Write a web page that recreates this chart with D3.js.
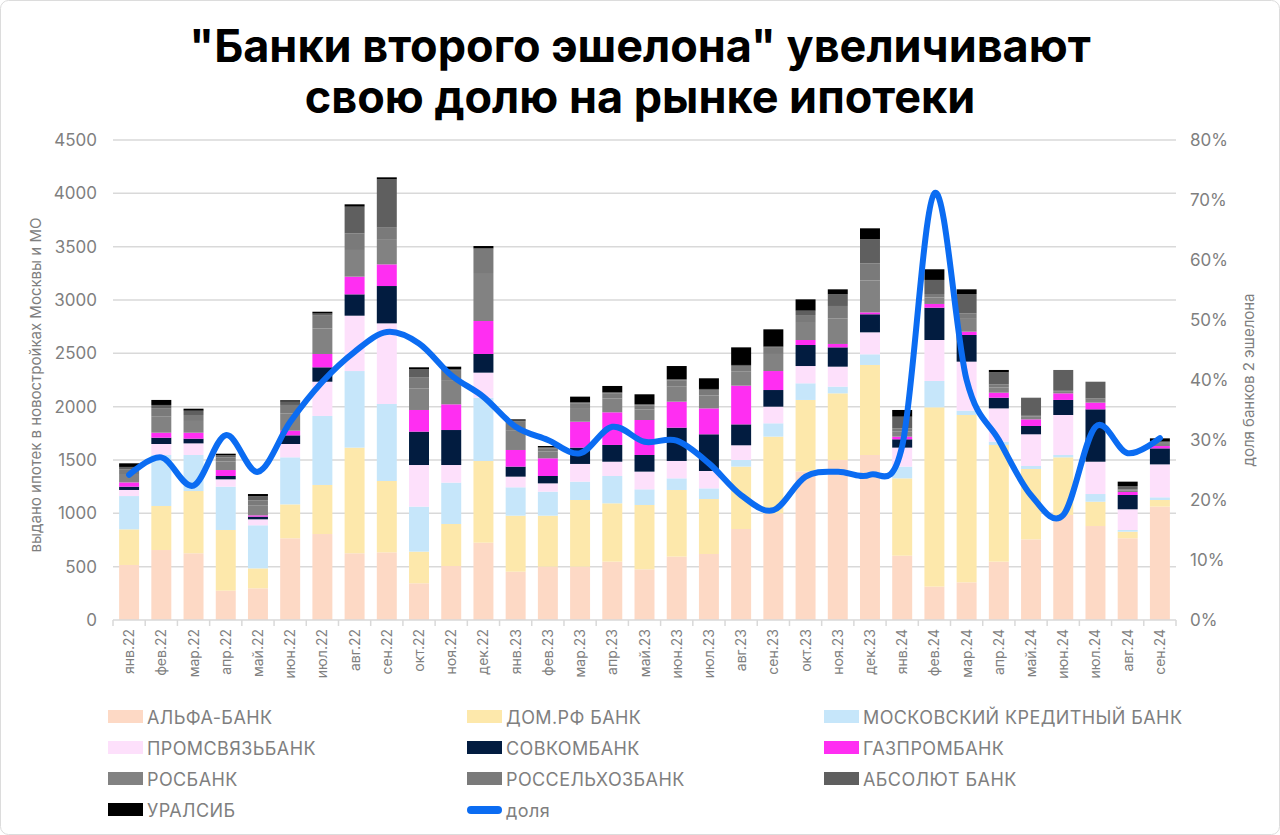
<!DOCTYPE html>
<html>
<head>
<meta charset="utf-8">
<script src="https://cdn.jsdelivr.net/npm/d3@7"></script>
<style>
  body { margin: 0; background: #fff; }
  svg { display: block; font-family: Inter, "Noto Sans", sans-serif; }
</style>
</head>
<body>
<div id="chart"></div>
<script>
const months = ["янв.22","фев.22","мар.22","апр.22","май.22","июн.22","июл.22","авг.22","сен.22","окт.22","ноя.22","дек.22",
  "янв.23","фев.23","мар.23","апр.23","май.23","июн.23","июл.23","авг.23","сен.23","окт.23","ноя.23","дек.23",
  "янв.24","фев.24","мар.24","апр.24","май.24","июн.24","июл.24","авг.24","сен.24"];

const alfa  = [516,656,625,275,297,766,806,625,634,344,506,725,453,500,500,547,475,594,619,853,1000,1391,1500,1547,603,313,353,547,756,984,881,766,1063];
const domrf = [334,413,584,569,187,318,460,991,669,297,394,766,525,478,625,547,603,625,515,585,719,672,625,844,725,1681,1569,1094,660,541,228,62,62];
const mkb   = [312,478,338,406,404,441,647,718,722,422,388,593,266,225,172,256,147,109,100,62,125,156,63,100,110,247,41,31,28,22,72,16,25];
const psb   = [57,103,109,69,56,125,321,519,756,390,165,235,100,78,166,134,166,163,163,138,156,162,187,206,178,384,459,312,297,375,303,194,309];
const sovk  = [31,59,44,31,25,81,135,200,350,313,328,175,94,69,153,157,156,312,344,196,156,197,181,169,78,303,250,100,78,141,491,134,150];
const gpb   = [40,47,56,56,12,44,125,166,203,203,241,309,156,166,243,306,328,244,243,363,178,47,32,18,25,35,31,47,62,62,63,28,22];
const rosb  = [70,150,110,80,95,160,240,250,230,200,220,450,180,65,120,130,100,140,120,135,160,160,240,300,50,60,120,50,25,20,25,15,20];
const rshb  = [50,80,56,39,45,81,119,156,114,103,101,226,85,28,52,47,37,59,52,49,59,74,116,160,28,33,52,28,16,11,15,10,12];
const absb  = [25,30,40,20,40,31,20,250,453,81,10,5,10,10,10,10,10,10,10,10,10,41,109,225,109,132,181,113,156,188,156,31,10];
const ural  = [34,47,19,14,20,13,17,22,19,16,22,22,12,12,53,60,94,125,100,165,162,106,47,103,63,100,44,22,5,0,0,41,30];
// доля банков 2 эшелона, %
const share = [24.2,27.1,22.4,30.8,24.7,33,39.7,44.7,48,46.1,40.8,37.2,32.2,30,27.8,32.2,29.7,29.9,26.1,20.8,18.3,23.9,24.7,24.2,29,71.1,40,30,20.8,17.5,32.2,27.8,30.3];

const leftTicks = [0,500,1000,1500,2000,2500,3000,3500,4000,4500];
const rightTicks = [0,10,20,30,40,50,60,70,80];

const series = [
  {key: "alfa",  name: "АЛЬФА-БАНК", color: "#fdd9c5", values: alfa},
  {key: "domrf", name: "ДОМ.РФ БАНК", color: "#fde8ab", values: domrf},
  {key: "mkb",   name: "МОСКОВСКИЙ КРЕДИТНЫЙ БАНК", color: "#c6e6fa", values: mkb},
  {key: "psb",   name: "ПРОМСВЯЗЬБАНК", color: "#fde0fb", values: psb},
  {key: "sovk",  name: "СОВКОМБАНК", color: "#021c40", values: sovk},
  {key: "gpb",   name: "ГАЗПРОМБАНК", color: "#ff2ef2", values: gpb},
  {key: "rosb",  name: "РОСБАНК", color: "#828282", values: rosb},
  {key: "rshb",  name: "РОССЕЛЬХОЗБАНК", color: "#7a7a7a", values: rshb},
  {key: "absb",  name: "АБСОЛЮТ БАНК", color: "#5f5f5f", values: absb},
  {key: "ural",  name: "УРАЛСИБ", color: "#000000", values: ural}
];

const width = 1280, height = 835;
const margin = {top: 140, right: 104, bottom: 215, left: 113};
const innerBottom = height - margin.bottom;
const grey = "#7f7f7f";
const lineColor = "#0b6cf2";

const svg = d3.select("#chart").append("svg")
  .attr("width", width)
  .attr("height", height);

svg.append("rect")
  .attr("x", 0.5).attr("y", 0.5)
  .attr("width", width - 1).attr("height", height - 1)
  .attr("rx", 8)
  .attr("fill", "#fff")
  .attr("stroke", "#dcdcdc");

// title, two lines
const titleLines = ['"Банки второго эшелона" увеличивают', 'свою долю на рынке ипотеки'];
svg.selectAll(".title")
  .data(titleLines)
  .enter().append("text")
    .attr("class", "title")
    .attr("x", width / 2)
    .attr("y", (d, i) => 62 + i * 51)
    .attr("text-anchor", "middle")
    .attr("font-size", 45)
    .attr("font-weight", 700)
    .attr("fill", "#000")
    .text(d => d);

// scales
const x = d3.scaleBand()
  .domain(months)
  .range([margin.left, width - margin.right])
  .paddingInner(0.38)
  .paddingOuter(0.19);

const y = d3.scaleLinear().domain([0, 4500]).range([innerBottom, margin.top]);
const y2 = d3.scaleLinear().domain([0, 80]).range([innerBottom, margin.top]);

// gridlines
svg.append("g")
  .selectAll("line")
  .data(leftTicks.filter(d => d > 0))
  .enter().append("line")
    .attr("x1", margin.left).attr("x2", width - margin.right)
    .attr("y1", d => y(d)).attr("y2", d => y(d))
    .attr("stroke", "#d9d9d9")
    .attr("stroke-width", 1.5);

// left axis
const yAxis = svg.append("g")
  .attr("transform", `translate(${margin.left},0)`)
  .call(d3.axisLeft(y).tickValues(leftTicks).tickSize(0).tickPadding(16).tickFormat(d3.format("d")));
yAxis.select(".domain").remove();
yAxis.selectAll("text").attr("font-size", 17).attr("fill", grey).attr("font-family", "Inter, sans-serif");

// right axis
const y2Axis = svg.append("g")
  .attr("transform", `translate(${width - margin.right},0)`)
  .call(d3.axisRight(y2).tickValues(rightTicks).tickSize(0).tickPadding(14).tickFormat(d => d + "%"));
y2Axis.select(".domain").remove();
y2Axis.selectAll("text").attr("font-size", 17).attr("fill", grey).attr("font-family", "Inter, sans-serif");

// stacked bars
const table = months.map((m, i) => {
  const row = {month: m};
  series.forEach(s => { row[s.key] = s.values[i]; });
  return row;
});
const stacked = d3.stack().keys(series.map(s => s.key))(table);

svg.append("g")
  .selectAll("g")
  .data(stacked)
  .enter().append("g")
    .attr("fill", (d, i) => series[i].color)
  .selectAll("rect")
  .data(d => d)
  .enter().append("rect")
    .attr("x", d => x(d.data.month))
    .attr("y", d => y(d[1]))
    .attr("width", x.bandwidth())
    .attr("height", d => y(d[0]) - y(d[1]));

// x axis line and ticks between categories
const step = x.step();
const xAxisG = svg.append("g");
xAxisG.append("line")
  .attr("x1", margin.left).attr("x2", width - margin.right)
  .attr("y1", innerBottom).attr("y2", innerBottom)
  .attr("stroke", "#d9d9d9").attr("stroke-width", 1.5);
xAxisG.selectAll(".tick")
  .data(d3.range(months.length + 1))
  .enter().append("line")
    .attr("x1", i => margin.left + i * step).attr("x2", i => margin.left + i * step)
    .attr("y1", innerBottom).attr("y2", innerBottom + 6)
    .attr("stroke", "#d9d9d9").attr("stroke-width", 1.5);

xAxisG.selectAll(".xlab")
  .data(months)
  .enter().append("text")
    .attr("transform", d => `translate(${x(d) + x.bandwidth() / 2 + 5},${innerBottom + 9}) rotate(-90)`)
    .attr("text-anchor", "end")
    .attr("font-size", 14)
    .attr("fill", grey)
    .text(d => d);

// share line
const line = d3.line()
  .x((d, i) => x(months[i]) + x.bandwidth() / 2)
  .y(d => y2(d))
  .curve(d3.curveCardinal.tension(0));

svg.append("path")
  .datum(share)
  .attr("d", line)
  .attr("fill", "none")
  .attr("stroke", lineColor)
  .attr("stroke-width", 6)
  .attr("stroke-linecap", "round")
  .attr("stroke-linejoin", "round");

// axis titles
svg.append("text")
  .attr("transform", `translate(41,${(margin.top + innerBottom) / 2 + 5}) rotate(-90)`)
  .attr("text-anchor", "middle")
  .attr("font-size", 15)
  .attr("fill", grey)
  .text("выдано ипотек в новостройках Москвы и МО");

svg.append("text")
  .attr("transform", `translate(1254,${(margin.top + innerBottom) / 2}) rotate(-90)`)
  .attr("text-anchor", "middle")
  .attr("font-size", 15)
  .attr("fill", grey)
  .text("доля банков 2 эшелона");

// legend
const legendItems = series.map(s => ({name: s.name, color: s.color, type: "rect"}))
  .concat([{name: "доля", color: lineColor, type: "line"}]);
const colX = [108, 467, 824];
const legend = svg.append("g");
legendItems.forEach((d, i) => {
  const cx = colX[i % 3];
  const cy = 717 + Math.floor(i / 3) * 31;
  if (d.type === "rect") {
    legend.append("rect")
      .attr("x", cx).attr("y", cy - 7)
      .attr("width", 35).attr("height", 13)
      .attr("fill", d.color);
  } else {
    legend.append("line")
      .attr("x1", cx + 4).attr("x2", cx + 31)
      .attr("y1", cy).attr("y2", cy)
      .attr("stroke", d.color).attr("stroke-width", 8)
      .attr("stroke-linecap", "round");
  }
  legend.append("text")
    .attr("x", cx + 39).attr("y", cy + 7)
    .attr("font-size", 18)
    .attr("letter-spacing", 0.4)
    .attr("fill", grey)
    .text(d.name);
});
</script>
</body>
</html>
